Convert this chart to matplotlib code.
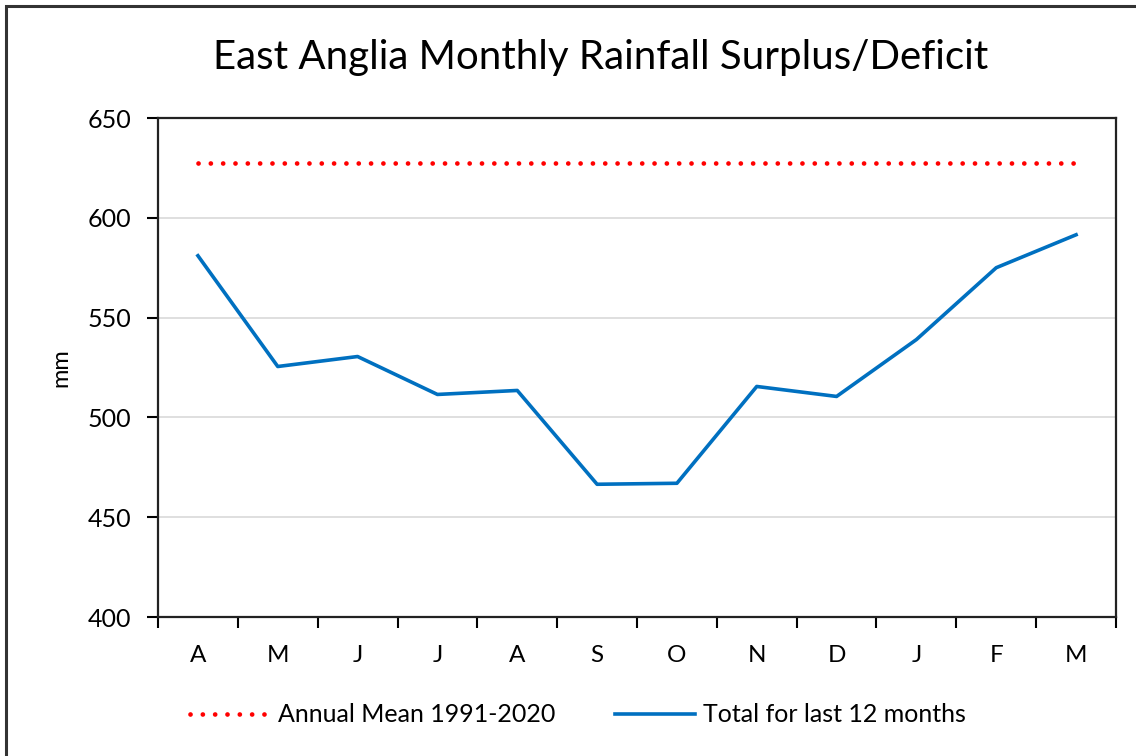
import matplotlib
matplotlib.use('Agg')
import matplotlib.pyplot as plt
from matplotlib.patches import Rectangle
from matplotlib.lines import Line2D

# Data (mm, rolling 12-month totals)
months = ['A', 'M', 'J', 'J', 'A', 'S', 'O', 'N', 'D', 'J', 'F', 'M']
total_12m = [581, 525.5, 530.5, 511.5, 513.5, 466.5, 467, 515.5, 510.5, 539, 575, 591.5]
annual_mean = [627.5] * 12

plt.rcParams['font.family'] = ['Lato', 'DejaVu Sans']

dots = (0, (0.01, 2.6))

fig = plt.figure(figsize=(11.36, 7.56), dpi=100)
ax = fig.add_axes([158 / 1136, 1 - 617 / 756, (1116 - 158) / 1136, (617 - 118) / 756])

x = list(range(len(months)))
ax.plot(x, annual_mean, color='#ff0000', linestyle=dots, linewidth=3.4,
        dash_capstyle='round', label='Annual Mean 1991-2020')
ax.plot(x, total_12m, color='#0070c0', linewidth=2.6, label='Total for last 12 months')

ax.set_xlim(-0.5, len(months) - 0.5)
ax.set_ylim(400, 650)
ax.set_yticks(range(400, 651, 50))
ax.set_xticks([i + 0.5 for i in range(-1, len(months))])
ax.set_xticklabels([])
ax.set_xticks(x, minor=True)
ax.set_xticklabels(months, minor=True)
ax.tick_params(axis='x', which='major', length=8, width=1.5, direction='out')
ax.tick_params(axis='x', which='minor', length=0, pad=20, labelsize=17.5)
ax.tick_params(axis='y', length=8, width=1.5, direction='out', labelsize=18, pad=11)

ax.yaxis.grid(True, color='#d9d9d9', linewidth=1.2)
ax.set_axisbelow(True)
for s in ax.spines.values():
    s.set_linewidth(1.6)
    s.set_color('#222222')

ax.set_ylabel('mm', fontsize=17, labelpad=12)
fig.text(601 / 1136, 1 - 58 / 756, 'East Anglia Monthly Rainfall Surplus/Deficit',
         fontsize=29, ha='center', va='center')

handles = [Line2D([], [], color='#ff0000', linestyle=dots, linewidth=3.4, dash_capstyle='round'),
           Line2D([], [], color='#0070c0', linewidth=2.6)]
fig.legend(handles, ['Annual Mean 1991-2020', 'Total for last 12 months'],
           loc='center', bbox_to_anchor=(578 / 1136, 1 - 715 / 756), ncol=2,
           frameon=False, fontsize=18, handlelength=3.2, handletextpad=0.3, columnspacing=2.4)

# chart border (outer frame, cropped at right and bottom)
fig.patches.append(Rectangle((6 / 1136, -0.05), 1.2, 1 - 6 / 756 + 0.05, transform=fig.transFigure,
                             fill=False, edgecolor='#333333', linewidth=2.2))

fig.savefig('out.png', dpi=100)
